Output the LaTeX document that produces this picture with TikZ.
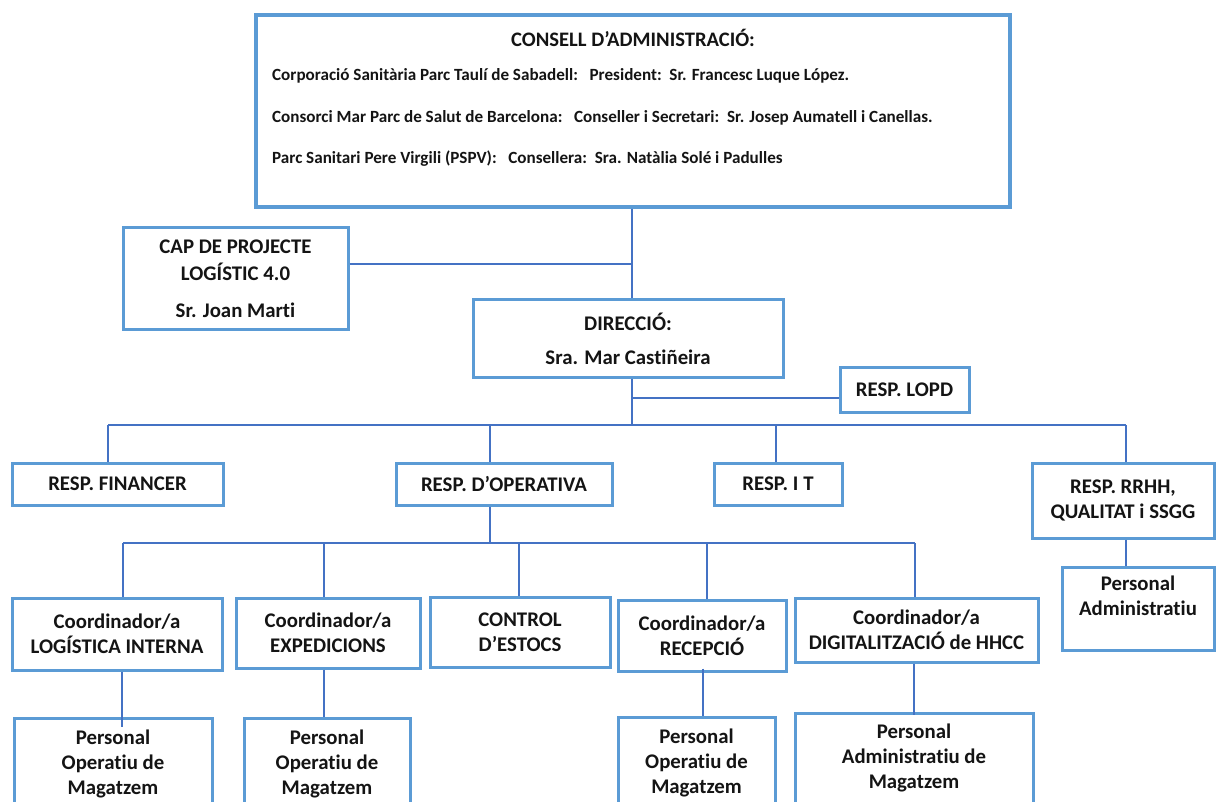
\documentclass[tikz,border=0pt]{standalone}
\usepackage{fontspec}
\setmainfont{Carlito}[Ligatures={NoCommon}]
\definecolor{boxc}{RGB}{91,155,213}
\definecolor{linec}{RGB}{68,114,196}
\definecolor{txt}{RGB}{20,20,20}
\begin{document}
\begin{tikzpicture}[x=1pt,y=-1pt,
  box/.style={draw=boxc, line width=3pt, fill=white, inner sep=0pt, align=center,
    text=txt, font=\bfseries\fontsize{20.8}{25}\selectfont},
  conn/.style={draw=linec, line width=2.5pt},
  ctext/.style={text=txt, inner sep=0pt, font=\bfseries\fontsize{17.1}{19}\selectfont, anchor=west}]
\useasboundingbox (0,0) rectangle (1216,802);
\clip (0,0) rectangle (1216,802);
\fill[white] (0,0) rectangle (1216,802);

% boxes
\node[box, line width=4pt, minimum width=754pt, minimum height=192pt] (consell) at (633,111) {};
\node[text=txt, inner sep=0pt, font=\bfseries\fontsize{20.6}{24}\selectfont] (ctitle) at (633,38) {CONSELL D’ADMINISTRACIÓ:};
\node[ctext] (c1) at (272,76) {Corporació Sanitària Parc Taulí de Sabadell:\ \ \ President:\ \ Sr. Francesc Luque López.};
\node[ctext] (c2) at (272,118) {Consorci Mar Parc de Salut de Barcelona:\ \ \ Conseller i Secretari:\ \ Sr. Josep Aumatell i Canellas.};
\node[ctext] (c3) at (272,159) {Parc Sanitari Pere Virgili (PSPV):\ \ \ Consellera:\ \ Sra. Natàlia Solé i Padulles};

\node[box, font=\bfseries\fontsize{20.8}{27}\selectfont, minimum width=225pt, minimum height=102pt] (cap) at (235.5,279) {CAP DE PROJECTE\\LOGÍSTIC 4.0\\[10pt]Sr. Joan Marti};
\node[box, minimum width=310pt, minimum height=78pt] (dir) at (628,339) {DIRECCIÓ:\\[9pt]Sra. Mar Castiñeira};
\node[box, minimum width=129pt, minimum height=44pt] (lopd) at (904.5,390) {RESP. LOPD};

\node[box, minimum width=211pt, minimum height=42pt] (fin) at (117.5,484) {RESP. FINANCER};
\node[box, minimum width=216pt, minimum height=42pt] (oper) at (504,484) {RESP. D’OPERATIVA};
\node[box, minimum width=128pt, minimum height=42pt] (it) at (778,484) {RESP. I T};
\node[box, minimum width=182pt, minimum height=75pt] (rrhh) at (1123,500.5) {RESP. RRHH,\\QUALITAT i SSGG};

\node[box, minimum width=210pt, minimum height=72pt] (log) at (117,634) {Coordinador/a\\LOGÍSTICA INTERNA};
\node[box, minimum width=184pt, minimum height=70pt] (exp) at (328,633) {Coordinador/a\\EXPEDICIONS};
\node[box, minimum width=180pt, minimum height=70pt] (ctrl) at (520,632) {CONTROL\\D’ESTOCS};
\node[box, minimum width=168pt, minimum height=71pt] (rec) at (702,635.5) {Coordinador/a\\RECEPCIÓ};
\node[box, minimum width=243pt, minimum height=64pt] (dig) at (916.5,630) {Coordinador/a\\DIGITALITZACIÓ de HHCC};
\node[box, minimum width=152pt, minimum height=83pt] (padm) at (1138,608.5) {Personal\\Administratiu\\\mbox{}};

\node[box, minimum width=198pt, minimum height=92pt] (p1) at (113,764) {Personal\\Operatiu de\\Magatzem};
\node[box, minimum width=166pt, minimum height=92pt] (p2) at (327,764) {Personal\\Operatiu de\\Magatzem};
\node[box, minimum width=157pt, minimum height=92pt] (p3) at (696.5,763) {Personal\\Operatiu de\\Magatzem};
\node[box, minimum width=238pt, minimum height=90pt] (p4) at (914,758) {Personal\\Administratiu de\\Magatzem};

% junction coordinates
\coordinate (xm) at (632,0);
\coordinate (j1) at (632,264);
\coordinate (j2) at (632,398);
\coordinate (b0) at (632,425);
\coordinate (bL) at (108,425);
\coordinate (bO) at (490,425);
\coordinate (bI) at (776,425);
\coordinate (bR) at (1126,425);
\coordinate (o0) at (490,543);
\coordinate (oA) at (123,543);
\coordinate (oB) at (324,543);
\coordinate (oC) at (519,543);
\coordinate (oD) at (707,543);
\coordinate (oE) at (915,543);

% connectors
\draw[conn] (consell.south -| xm) -- (dir.north -| xm);
\draw[conn] (cap.east |- j1) -- (j1);
\draw[conn] (dir.south -| b0) -- (b0);
\draw[conn] (j2) -- (lopd.west |- j2);
\draw[conn] (bL) -- (bR);
\draw[conn] (bL) -- (fin.north -| bL);
\draw[conn] (bO) -- (oper.north -| bO);
\draw[conn] (bI) -- (it.north -| bI);
\draw[conn] (bR) -- (rrhh.north -| bR);
\draw[conn] (rrhh.south -| bR) -- (padm.north -| bR);
\draw[conn] (oper.south -| o0) -- (o0);
\draw[conn] (oA) -- (oE);
\draw[conn] (oA) -- (log.north -| oA);
\draw[conn] (oB) -- (exp.north -| oB);
\draw[conn] (oC) -- (ctrl.north -| oC);
\draw[conn] (oD) -- (rec.north -| oD);
\draw[conn] (oE) -- (dig.north -| oE);
\draw[conn] (log.south -| 122,0) -- ([yshift=-10pt]p1.north -| 122,0);
\draw[conn] (exp.south -| 324,0) -- (p2.north -| 324,0);
\draw[conn] ([yshift=4pt]rec.south -| 703,0) -- (p3.north -| 703,0);
\draw[conn] (dig.south -| 914,0) -- ([yshift=-3pt]p4.north -| 914,0);
\end{tikzpicture}
\end{document}
